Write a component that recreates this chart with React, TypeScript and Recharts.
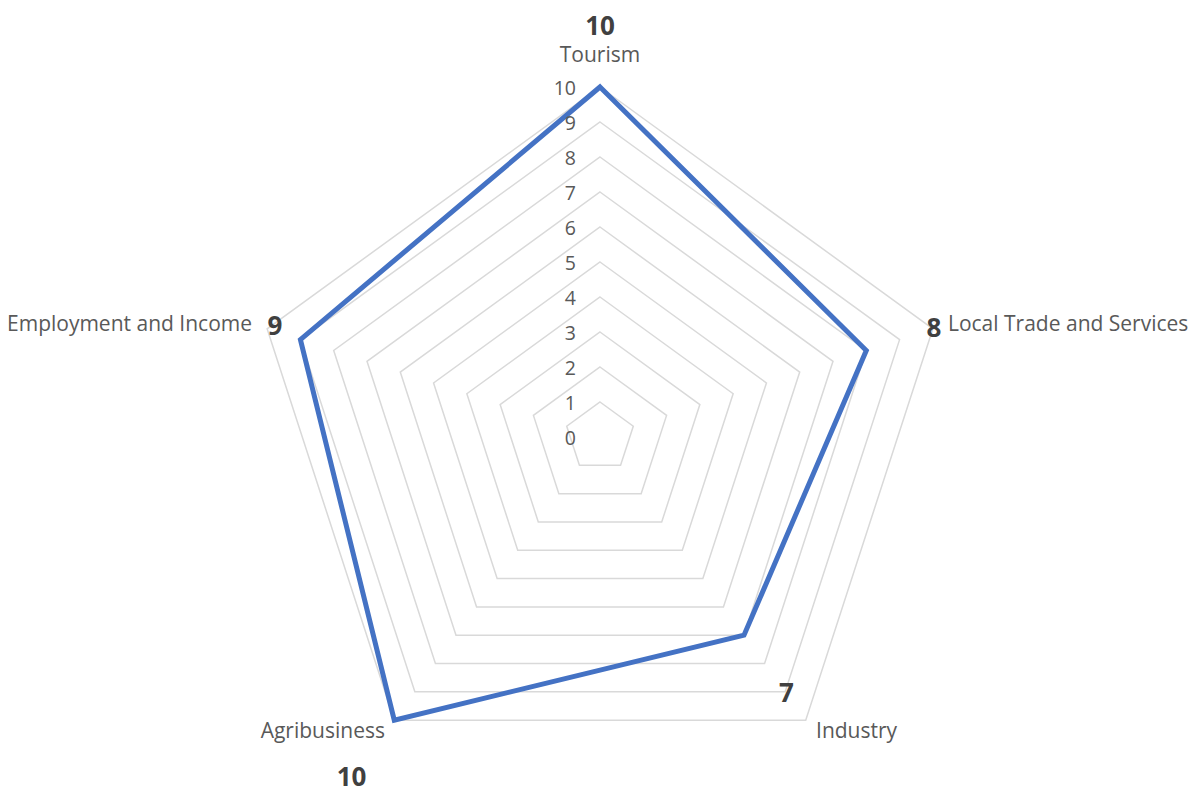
import React from 'react';
import { RadarChart, Radar, PolarGrid, PolarAngleAxis, PolarRadiusAxis } from 'recharts';

const categories = ['Tourism', 'Local Trade and Services', 'Industry', 'Agribusiness', 'Employment and Income'];
const scores = [10, 8, 7, 10, 9];
const radiusTicks = [0, 1, 2, 3, 4, 5, 6, 7, 8, 9, 10];

const data = categories.map((c, i) => ({ category: c, score: scores[i] }));

const FONT = '"Open Sans", sans-serif';

// label placement relative to the axis tick point (style only)
const labelPlacement = [
  { ldx: 0, ldy: -25, la: 'middle', vdx: 0, vdy: -54 },
  { ldx: 7.5, ldy: -3, la: 'start', vdx: -6.5, vdy: 1 },
  { ldx: 5.6, ldy: 3.4, la: 'start', vdx: -24, vdy: -35 },
  { ldx: -4.6, ldy: 3.4, la: 'end', vdx: -38, vdy: 49 },
  { ldx: -7.5, ldy: -3, la: 'end', vdx: 15.5, vdy: -1 },
];

const AngleTick = (props: any) => {
  const { x, y, payload } = props;
  const idx = categories.indexOf(payload.value);
  const p = labelPlacement[idx] || labelPlacement[0];
  return (
    <g>
      <text x={x + p.ldx} y={y + p.ldy} textAnchor={p.la} dominantBaseline="central" fill="#595959" fontSize={21} fontFamily={FONT}>
        {payload.value}
      </text>
      <text x={x + p.vdx} y={y + p.vdy} textAnchor="middle" dominantBaseline="central" fill="#404040" fontSize={26} fontWeight="bold" fontFamily={FONT}>
        {scores[idx]}
      </text>
    </g>
  );
};

const RadiusTick = (props: any) => {
  const { x, y, payload } = props;
  return (
    <text x={x - 24} y={y} textAnchor="end" dominantBaseline="central" fill="#595959" fontSize={19.5} fontFamily={FONT}>
      {payload.value}
    </text>
  );
};

export default function App() {
  return (
    <div style={{ position: 'absolute', left: 0, top: 0, width: 1189, height: 789, background: '#fff' }}>
      <RadarChart width={1189} height={789} data={data} cx={600} cy={437} outerRadius={350} startAngle={90} endAngle={-270} margin={{ top: 0, right: 0, bottom: 0, left: 0 }}>
        <PolarGrid gridType="polygon" radialLines={false} stroke="#d9d9d9" strokeWidth={1.5} />
        <PolarAngleAxis dataKey="category" tick={<AngleTick />} axisLine={false} tickLine={false} />
        <PolarRadiusAxis angle={90} domain={[0, 10]} ticks={radiusTicks as any} tickCount={11} tick={<RadiusTick />} axisLine={false} tickLine={false} />
        <Radar dataKey="score" stroke="#4472C4" strokeWidth={5} strokeLinejoin="miter" fill="none" fillOpacity={0} isAnimationActive={false} dot={false} />
      </RadarChart>
    </div>
  );
}
